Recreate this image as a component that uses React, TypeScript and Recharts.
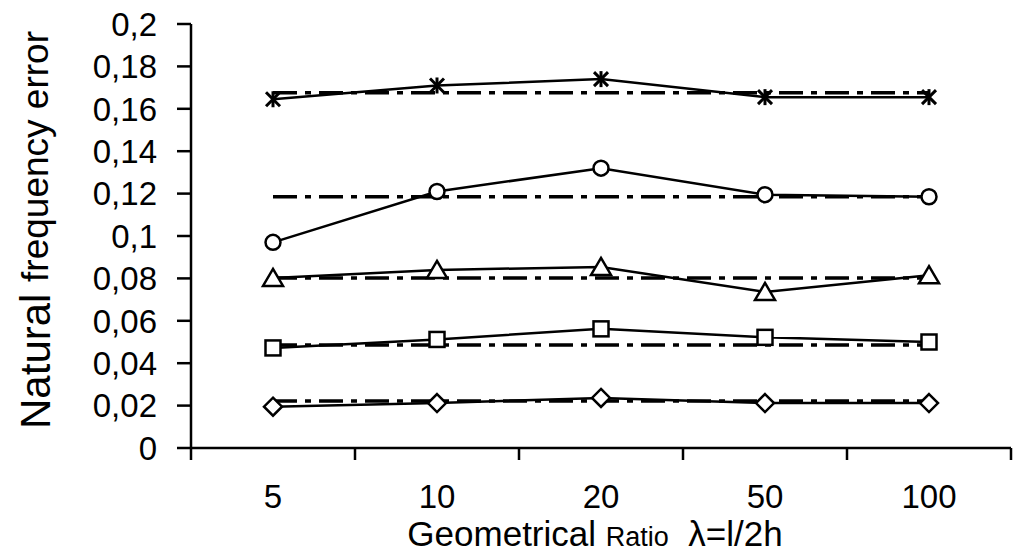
import { LineChart, Line, XAxis, YAxis } from "recharts";

// x categories (geometrical ratio)
const categories = ["5", "10", "20", "50", "100"];

// natural frequency error per series (solid lines with markers)
const starVals = [0.1645, 0.171, 0.174, 0.1655, 0.1655];
const circleVals = [0.097, 0.121, 0.132, 0.1195, 0.1185];
const triangleVals = [0.0802, 0.084, 0.0854, 0.0736, 0.0815];
const squareVals = [0.0472, 0.0512, 0.0562, 0.0522, 0.05];
const diamondVals = [0.0195, 0.0212, 0.0236, 0.0212, 0.0212];

// reference levels (dash-dot lines)
const starRef = 0.1676;
const circleRef = 0.1185;
const triangleRef = 0.0802;
const squareRef = 0.0486;
const diamondRef = 0.0222;

const yTicks = [0, 0.02, 0.04, 0.06, 0.08, 0.1, 0.12, 0.14, 0.16, 0.18, 0.2];

const data = categories.map((name, i) => ({
  name,
  pos: i + 0.5,
  star: starVals[i],
  circle: circleVals[i],
  triangle: triangleVals[i],
  square: squareVals[i],
  diamond: diamondVals[i],
  starRef,
  circleRef,
  triangleRef,
  squareRef,
  diamondRef,
}));

const FONT = "'Liberation Sans', Arial, sans-serif";
const MARK = { fill: "#fff", stroke: "#000", strokeWidth: 2.5 };
const DASH = "24 8 6 8";

const fmt = (v: number) => String(Number(v.toFixed(2))).replace(".", ",");

const Diamond = ({ cx, cy }: any) => (
  <polygon points={`${cx},${cy - 9} ${cx + 9},${cy} ${cx},${cy + 9} ${cx - 9},${cy}`} {...MARK} />
);
const Square = ({ cx, cy }: any) => <rect x={cx - 7.5} y={cy - 7.5} width={15} height={15} {...MARK} />;
const Triangle = ({ cx, cy }: any) => (
  <polygon points={`${cx},${cy - 9} ${cx + 10},${cy + 8} ${cx - 10},${cy + 8}`} {...MARK} />
);
const Circle = ({ cx, cy }: any) => <circle cx={cx} cy={cy} r={7.5} {...MARK} />;
const Star = ({ cx, cy }: any) => (
  <g stroke="#000" strokeWidth={3}>
    <line x1={cx} y1={cy - 8} x2={cx} y2={cy + 8} />
    <line x1={cx - 7} y1={cy - 7} x2={cx + 7} y2={cy + 7} />
    <line x1={cx - 7} y1={cy + 7} x2={cx + 7} y2={cy - 7} />
  </g>
);

const markerDot = (Comp: any, id: string) => (p: any) => <Comp key={`${id}-${p.index}`} cx={p.cx} cy={p.cy} />;

const YLabel = ({ viewBox }: any) => {
  const x = viewBox.x + 35;
  const y = viewBox.y + viewBox.height / 2 - 6;
  return (
    <text
      x={x}
      y={y}
      transform={`rotate(-90, ${x}, ${y})`}
      textAnchor="middle"
      dominantBaseline="central"
      fontFamily={FONT}
      fill="#000"
    >
      <tspan fontSize={42}>Natural </tspan>
      <tspan fontSize={37}>frequency error</tspan>
    </text>
  );
};

const XLabel = ({ viewBox }: any) => (
  <text x={viewBox.x + viewBox.width / 2 - 6} y={546} textAnchor="middle" fontFamily={FONT} fill="#000">
    <tspan fontSize={35}>Geometrical </tspan>
    <tspan fontSize={27}>Ratio</tspan>
    <tspan fontSize={35} xmlSpace="preserve">{"  λ=l/2h"}</tspan>
  </text>
);

export default function App() {
  const axisStroke = { stroke: "#000", strokeWidth: 2.5 };
  const tick = { fill: "#000", fontSize: 33, fontFamily: FONT };
  return (
    <div style={{ position: "absolute", left: 0, top: 0, background: "#fff" }}>
      <LineChart width={1013} height={555} data={data} margin={{ top: 24, right: 2, left: 0, bottom: 0 }}>
        <XAxis
          xAxisId={0}
          type="number"
          dataKey="pos"
          domain={[0, 5]}
          ticks={[0, 1, 2, 3, 4, 5]}
          interval={0}
          tickFormatter={() => ""}
          tickSize={12}
          height={14}
          axisLine={axisStroke}
          tickLine={axisStroke}
        />
        <XAxis
          xAxisId="lab"
          type="number"
          dataKey="pos"
          domain={[0, 5]}
          allowDataOverflow
          ticks={[0.5, 1.5, 2.5, 3.5, 4.5]}
          interval={0}
          tickFormatter={(v: number) => categories[Math.floor(v)]}
          axisLine={false}
          tickLine={false}
          tickSize={0}
          tickMargin={23}
          height={93}
          tick={tick}
          label={{ content: XLabel }}
        />
        <YAxis
          type="number"
          domain={[0, 0.2]}
          ticks={yTicks}
          interval={0}
          tickFormatter={fmt}
          width={191}
          tickSize={14}
          tickMargin={20}
          axisLine={axisStroke}
          tickLine={axisStroke}
          tick={tick}
          label={{ content: YLabel }}
        />

        {["starRef", "circleRef", "triangleRef", "squareRef", "diamondRef"].map((k) => (
          <Line
            key={k}
            dataKey={k}
            stroke="#000"
            strokeWidth={3.5}
            strokeDasharray={DASH}
            dot={false}
            activeDot={false}
            isAnimationActive={false}
          />
        ))}

        <Line dataKey="star" stroke="#000" strokeWidth={2.5} dot={markerDot(Star, "st")} activeDot={false} isAnimationActive={false} />
        <Line dataKey="circle" stroke="#000" strokeWidth={2.5} dot={markerDot(Circle, "ci")} activeDot={false} isAnimationActive={false} />
        <Line dataKey="triangle" stroke="#000" strokeWidth={2.5} dot={markerDot(Triangle, "tr")} activeDot={false} isAnimationActive={false} />
        <Line dataKey="square" stroke="#000" strokeWidth={2.5} dot={markerDot(Square, "sq")} activeDot={false} isAnimationActive={false} />
        <Line dataKey="diamond" stroke="#000" strokeWidth={2.5} dot={markerDot(Diamond, "di")} activeDot={false} isAnimationActive={false} />
      </LineChart>
    </div>
  );
}
